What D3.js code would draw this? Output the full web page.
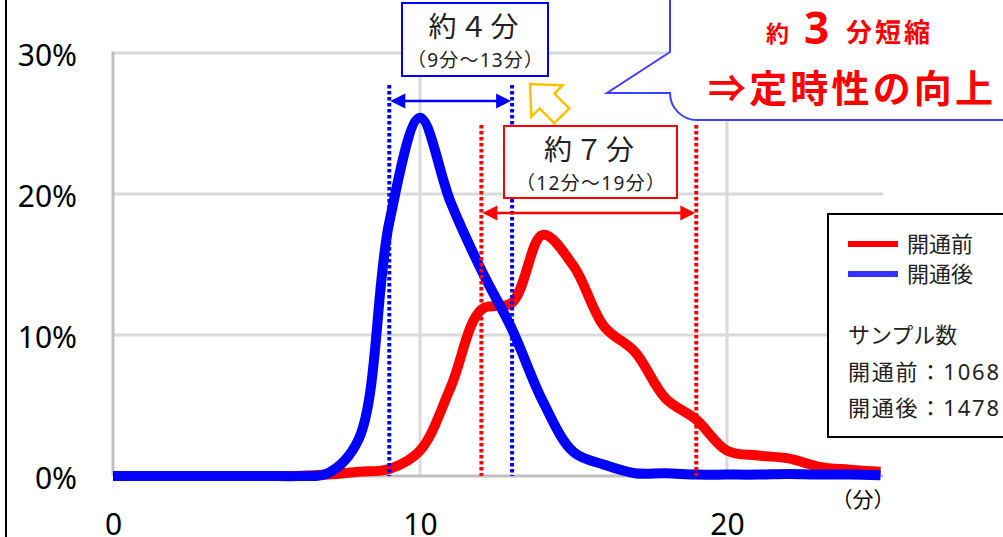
<!DOCTYPE html>
<html lang="ja">
<head>
<meta charset="utf-8">
<title>所要時間分布</title>
<script src="https://d3js.org/d3.v7.min.js"></script>
<style>
  body { margin: 0; background: #fff; }
  svg text { font-family: "Noto Sans", "Noto Sans CJK JP", sans-serif; }
</style>
</head>
<body>
<svg width="1003" height="537"></svg>
<script>
// 所要時間（分）
var minutes = [0,1,2,3,4,5,6,7,8,9,10,11,12,13,14,15,16,17,18,19,20,21,22,23,24,25];
// 開通前の分布（%）
var before = [0,0,0,0,0,0,0,0.1,0.3,0.5,1.8,6.3,11.8,12.3,17.1,14.9,10.6,8.8,5.5,4.0,1.8,1.45,1.25,0.65,0.45,0.3];
// 開通後の分布（%）
var after = [0,0,0,0,0,0,0,0.2,2.6,18.0,25.4,19.4,14.6,10.4,5.3,1.7,0.8,0.2,0.2,0.1,0.1,0.1,0.15,0.1,0.1,0.05];
var xTicks = [0,10,20];
var yTicks = [0,0.1,0.2,0.3];
var seriesNames = ["開通前","開通後"];
var sampleCounts = [1068,1478];
var afterRange = [9,13];
var beforeRange = [12,19];

var svg = d3.select("svg");

var x = d3.scaleLinear().domain([0,25]).range([113,880.5]);
var y = d3.scaleLinear().domain([0,0.3]).range([476,53]);

// 目盛線
svg.append("g").selectAll("line")
    .data(yTicks.slice(1)).enter().append("line")
    .attr("x1",x(0)).attr("x2",883)
    .attr("y1",function(d){return y(d);}).attr("y2",function(d){return y(d);})
    .attr("stroke","#d9d9d9").attr("stroke-width",3);
svg.append("g").selectAll("line")
    .data(xTicks.slice(1)).enter().append("line")
    .attr("x1",function(d){return x(d);}).attr("x2",function(d){return x(d);})
    .attr("y1",y(0.3)-1.5).attr("y2",y(0))
    .attr("stroke","#d9d9d9").attr("stroke-width",3);
svg.append("line")
    .attr("x1",x(0)).attr("x2",x(0)).attr("y1",y(0.3)-1.5).attr("y2",y(0))
    .attr("stroke","#c0c0c0").attr("stroke-width",3);
svg.append("line")
    .attr("x1",x(0)).attr("x2",883).attr("y1",y(0)).attr("y2",y(0))
    .attr("stroke","#c0c0c0").attr("stroke-width",3);

// 軸ラベル
var yAxis = d3.axisLeft(y).tickValues(yTicks).tickFormat(d3.format(".0%"))
    .tickSize(0).tickPadding(36);
var gy = svg.append("g").attr("transform","translate("+x(0)+",0)").call(yAxis);
gy.select(".domain").remove();
gy.selectAll("text").attr("font-size",30).attr("fill","#000").attr("dy","0.42em")
    .style("font-family","'Noto Sans', sans-serif");

var xAxis = d3.axisBottom(x).tickValues(xTicks).tickSize(0).tickPadding(38);
var gx = svg.append("g").attr("transform","translate(0,"+y(0)+")").call(xAxis);
gx.select(".domain").remove();
gx.selectAll("text").attr("font-size",30).attr("fill","#000")
    .style("font-family","'Noto Sans', sans-serif");

svg.append("text").attr("x",863).attr("y",500).attr("dy","0.35em")
    .attr("text-anchor","middle").attr("font-size",21).text("（分）");

// 左端の線
svg.append("line").attr("x1",6).attr("x2",6).attr("y1",0).attr("y2",537)
    .attr("stroke","#000").attr("stroke-width",2);

// 曲線
var line = d3.line()
    .x(function(d){return x(d[0]);})
    .y(function(d){return y(d[1]/100);})
    .curve(d3.curveCatmullRom.alpha(0.5));

svg.append("path").datum(minutes.map(function(m,i){return [m,before[i]];}))
    .attr("d",line).attr("fill","none").attr("stroke","#ff0000")
    .attr("stroke-width",10).attr("stroke-linejoin","round").attr("stroke-linecap","butt");
svg.append("path").datum(minutes.map(function(m,i){return [m,after[i]];}))
    .attr("d",line).attr("fill","none").attr("stroke","#0000ff")
    .attr("stroke-width",10).attr("stroke-linejoin","round").attr("stroke-linecap","butt");

// 点線
function dotted(v,top,color){
    svg.append("line").attr("x1",x(v)).attr("x2",x(v)).attr("y1",top).attr("y2",y(0))
        .attr("stroke",color).attr("stroke-width",4).attr("stroke-dasharray","3.5,2.5");
}
dotted(afterRange[0],85,"#0000ff");
dotted(afterRange[1],85,"#0000ff");
dotted(beforeRange[0],125,"#ff0000");
dotted(beforeRange[1],125,"#ff0000");

// 両矢印
function dblArrow(r,yy,color){
    var g = svg.append("g");
    var x1 = x(r[0])+1, x2 = x(r[1])-1, hl = 15, hw = 7.5;
    g.append("line").attr("x1",x1+hl-2).attr("x2",x2-hl+2).attr("y1",yy).attr("y2",yy)
        .attr("stroke",color).attr("stroke-width",2.5);
    g.append("path").attr("fill",color)
        .attr("d","M"+x1+","+yy+"L"+(x1+hl)+","+(yy-hw)+"L"+(x1+hl)+","+(yy+hw)+"Z");
    g.append("path").attr("fill",color)
        .attr("d","M"+x2+","+yy+"L"+(x2-hl)+","+(yy-hw)+"L"+(x2-hl)+","+(yy+hw)+"Z");
}
dblArrow(afterRange,101,"#0000ff");
dblArrow(beforeRange,213,"#ff0000");

// 注記ボックス
function labelBox(bx,by,bw,bh,color,main,sub,subW){
    svg.append("rect").attr("x",bx).attr("y",by).attr("width",bw).attr("height",bh)
        .attr("fill","#fff").attr("stroke",color).attr("stroke-width",2);
    svg.append("text").attr("x",bx+bw/2).attr("y",by+24).attr("dy","0.36em")
        .attr("text-anchor","middle").attr("font-size",28).attr("fill","#222")
        .attr("letter-spacing",3).text(main);
    svg.append("text").attr("x",bx+bw/2).attr("y",by+57).attr("dy","0.36em")
        .attr("text-anchor","middle").attr("font-size",19).attr("fill","#222")
        .attr("textLength",subW).attr("lengthAdjust","spacing").text(sub);
}
labelBox(402,3,146,73,"#0000ff","約４分","（"+afterRange[0]+"分～"+afterRange[1]+"分）",136);
labelBox(504,126,173,72,"#ff0000","約７分","（"+beforeRange[0]+"分～"+beforeRange[1]+"分）",149);

// 黄色の矢印
svg.append("path")
    .attr("transform","translate(530,84) rotate(-45)")
    .attr("d","M0,0L22,24L10.5,24L10.5,45L-10.5,45L-10.5,24L-22,24Z")
    .attr("fill","#fff").attr("stroke","#ffc000").attr("stroke-width",2.5)
    .attr("stroke-linejoin","miter");

// 吹き出し
svg.append("path")
    .attr("d","M670,-5V52L607,93L670,93A27,27 0 0 0 697,120H1010V-5Z")
    .attr("fill","#fff").attr("stroke","#3f3fff").attr("stroke-width",2);
svg.append("text").attr("x",766).attr("y",42).attr("font-size",23)
    .attr("font-weight","bold").attr("fill","#ff0000").text("約");
svg.append("text").attr("x",804).attr("y",44).attr("font-size",44)
    .attr("font-weight","bold").attr("fill","#ff0000").text("3");
svg.append("text").attr("x",846).attr("y",42).attr("font-size",26)
    .attr("font-weight","bold").attr("fill","#ff0000").attr("letter-spacing",3).text("分短縮");
svg.append("text").attr("x",708).attr("y",102).attr("font-size",38)
    .attr("font-weight","bold").attr("fill","#ff0000")
    .attr("textLength",285).attr("lengthAdjust","spacing").text("⇒定時性の向上");

// 凡例
var lg = svg.append("g");
lg.append("rect").attr("x",828).attr("y",214).attr("width",200).attr("height",223)
    .attr("fill","#fff").attr("stroke","#000").attr("stroke-width",2);
var legendColors = ["#ff0000","#3333ff"];
seriesNames.forEach(function(n,i){
    var yy = 244 + i*30;
    lg.append("line").attr("x1",848).attr("x2",898).attr("y1",yy).attr("y2",yy)
        .attr("stroke",legendColors[i]).attr("stroke-width",6);
    lg.append("text").attr("x",907).attr("y",yy).attr("dy","0.36em")
        .attr("font-size",22).attr("fill","#222").text(n);
});
lg.append("text").attr("x",848).attr("y",335).attr("dy","0.36em")
    .attr("font-size",22).attr("fill","#222").text("サンプル数");
seriesNames.forEach(function(n,i){
    lg.append("text").attr("x",848).attr("y",372+i*36).attr("dy","0.36em")
        .attr("font-size",22).attr("fill","#222")
        .attr("textLength",151).attr("lengthAdjust","spacing")
        .text(n+"："+sampleCounts[i]);
});
</script>
</body>
</html>
